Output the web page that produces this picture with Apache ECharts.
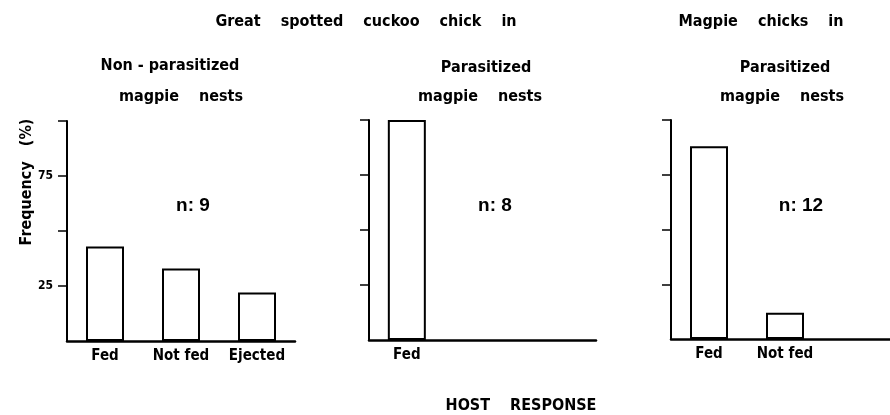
<!DOCTYPE html>
<html>
	<head>
		<meta charset="utf-8">
		<title></title>
		<style>
		body{margin:0;background:#fff;}
		#main{width:890px;height:415px;}
		</style>
	</head>
	<body>
		<div id="main"></div>
		<script src="https://cdn.jsdelivr.net/npm/echarts@6/dist/echarts.min.js"></script>
		<script type="text/javascript">
			// 数据
			var nonParaCats = ['Fed', 'Not fed', 'Ejected'];
			var nonParaVals = [43, 33, 22];
			var paraCats = ['Fed', '', ''];
			var paraVals = [100];
			var magpieCats = ['Fed', 'Not fed', ''];
			var magpieVals = [88, 12];
			var yTicks = [25, 50, 75, 100];
			var yLabels = [25, 75];
			var nLabels = ['n: 9', 'n: 8', 'n: 12'];

			var fam = '"DejaVu Sans Condensed", "Liberation Sans Narrow", "Liberation Sans", sans-serif';
			var headFont = 'bold 16px ' + fam;
			var grids = [
				{left: 67, top: 121, width: 228, height: 220},
				{left: 369, top: 120, width: 227, height: 220},
				{left: 671, top: 120, width: 228, height: 219}
			];
			var catList = [nonParaCats, paraCats, magpieCats];
			var valList = [nonParaVals, paraVals, magpieVals];

			function txt(t, x, y, font) {
				return {
					type: 'text', x: x, y: y,
					style: {text: t, font: font || headFont, fill: '#000', textAlign: 'center', textVerticalAlign: 'middle'}
				};
			}

			var chart = echarts.init(document.getElementById('main'));
			var option = {
				animation: false,
				backgroundColor: '#fff',
				grid: grids.map(function (g) {
					return {left: g.left, top: g.top, width: g.width, height: g.height, outerBoundsMode: 'none'};
				}),
				xAxis: catList.map(function (c, i) {
					return {
						type: 'category', gridIndex: i, data: c,
						axisLine: {lineStyle: {color: '#000', width: 2.5}},
						axisTick: {show: false},
						axisLabel: {interval: 0, margin: 8, color: '#000', fontFamily: fam, fontWeight: 'bold', fontSize: 15}
					};
				}),
				yAxis: catList.map(function (c, i) {
					return {
						type: 'value', gridIndex: i, min: 0, max: 100, interval: 25,
						splitLine: {show: false},
						axisLine: {show: true, lineStyle: {color: '#000', width: 2}},
						axisTick: {show: true, inside: false, length: 9, customValues: yTicks, lineStyle: {color: '#000', width: 1.5}},
						axisLabel: {show: i === 0, customValues: yLabels, margin: 14, color: '#000', fontFamily: fam, fontWeight: 'bold', fontSize: 12}
					};
				}),
				series: valList.map(function (v, i) {
					return {
						type: 'bar', xAxisIndex: i, yAxisIndex: i, data: v, barWidth: 38,
						itemStyle: {color: '#fff', borderColor: '#000', borderWidth: 2}
					};
				}),
				graphic: [
					txt('Great    spotted    cuckoo    chick    in', 366, 22),
					txt('Magpie    chicks    in', 761, 22),
					txt('Non - parasitized', 170, 66),
					txt('magpie    nests', 181, 97),
					txt('Parasitized', 486, 68),
					txt('magpie    nests', 480, 97),
					txt('Parasitized', 785, 68),
					txt('magpie    nests', 782, 97),
					txt(nLabels[0], 193, 206, 'bold 19px "Liberation Sans", sans-serif'),
					txt(nLabels[1], 495, 206, 'bold 19px "Liberation Sans", sans-serif'),
					txt(nLabels[2], 801, 206, 'bold 19px "Liberation Sans", sans-serif'),
					txt('HOST    RESPONSE', 521, 406),
					{
						type: 'text', x: 27, y: 182, rotation: Math.PI / 2,
						style: {text: 'Frequency   (%)', font: headFont, fill: '#000', textAlign: 'center', textVerticalAlign: 'middle'}
					}
				]
			};
			chart.setOption(option);
		</script>
	</body>
</html>
